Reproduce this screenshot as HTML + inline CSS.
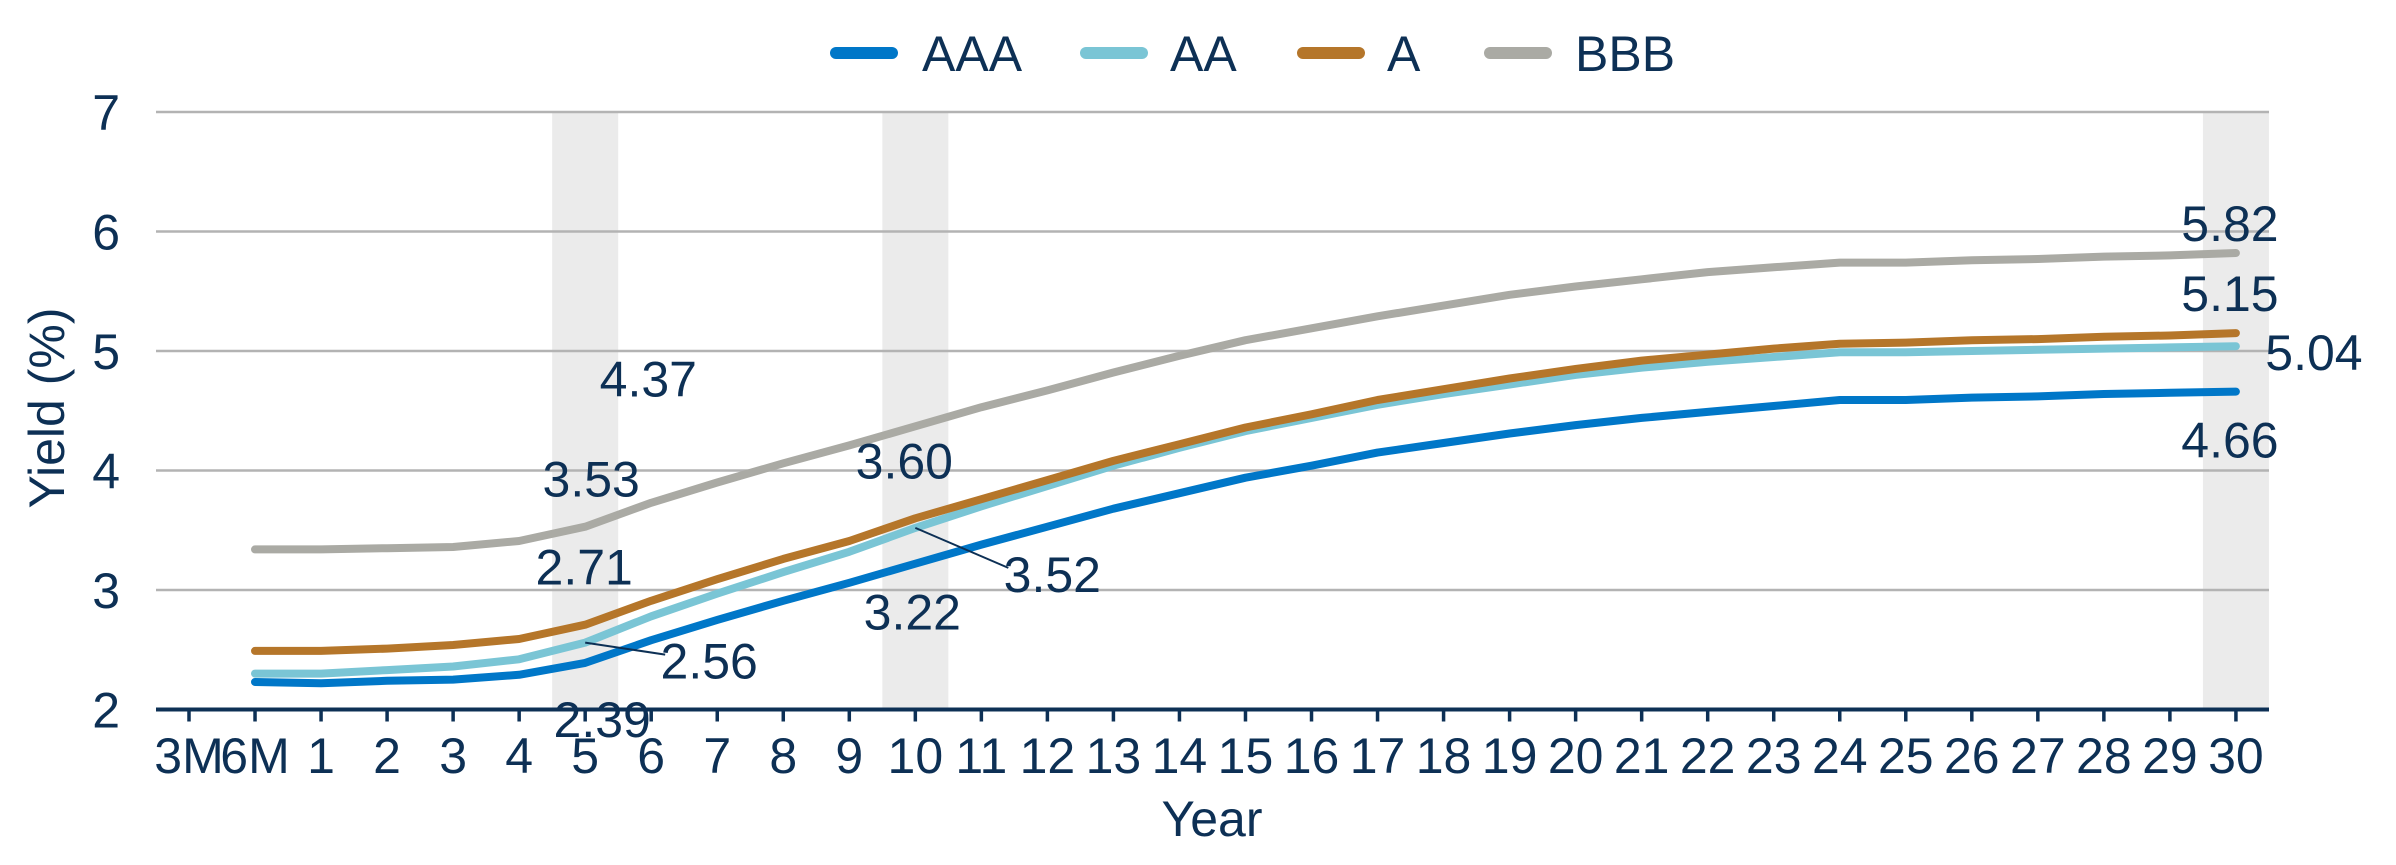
<!DOCTYPE html>
<html><head><meta charset="utf-8"><style>
html,body{margin:0;padding:0;background:#fff}
svg{display:block}
text{font-family:"Liberation Sans Narrow","Liberation Sans",sans-serif;fill:#0d3055}
</style></head><body>
<svg id="chart" width="2396" height="865" viewBox="0 0 2396 865" xmlns="http://www.w3.org/2000/svg">
<g id="bands"></g>
<g id="grid"></g>
<g id="series"></g>
<g id="axes"></g>
<g id="labels"></g>
<g>
  <line x1="836" y1="53" x2="892" y2="53" stroke="#0077c8" stroke-width="12" stroke-linecap="round"/>
  <text x="922" y="71" font-size="50">AAA</text>
  <line x1="1086" y1="53" x2="1142" y2="53" stroke="#7ac5d5" stroke-width="12" stroke-linecap="round"/>
  <text x="1170" y="71" font-size="50">AA</text>
  <line x1="1303" y1="53" x2="1359" y2="53" stroke="#b5762a" stroke-width="12" stroke-linecap="round"/>
  <text x="1387" y="71" font-size="50">A</text>
  <line x1="1490" y1="53" x2="1546" y2="53" stroke="#aaaaa4" stroke-width="12" stroke-linecap="round"/>
  <text x="1575" y="71" font-size="50">BBB</text>
</g>
<text transform="translate(64,408) rotate(-90)" text-anchor="middle" font-size="50">Yield (%)</text>
<text x="1212" y="836" text-anchor="middle" font-size="50">Year</text>
</svg>
<script>
const categories = ["3M","6M","1","2","3","4","5","6","7","8","9","10","11","12","13","14","15","16","17","18","19","20","21","22","23","24","25","26","27","28","29","30"];
const yTicks = [2,3,4,5,6,7];
const highlighted = ["5","10","30"];
const aaa = [null,2.23,2.22,2.24,2.25,2.29,2.39,2.58,2.75,2.91,3.06,3.22,3.38,3.53,3.68,3.81,3.94,4.04,4.15,4.23,4.31,4.38,4.44,4.49,4.54,4.59,4.59,4.61,4.62,4.64,4.65,4.66];
const aa  = [null,2.30,2.30,2.33,2.36,2.42,2.56,2.78,2.97,3.15,3.32,3.52,3.70,3.87,4.04,4.19,4.33,4.44,4.55,4.64,4.72,4.80,4.86,4.91,4.95,4.99,4.99,5.00,5.01,5.02,5.03,5.04];
const aRating = [null,2.49,2.49,2.51,2.54,2.59,2.71,2.91,3.09,3.26,3.41,3.60,3.76,3.92,4.08,4.22,4.36,4.47,4.59,4.68,4.77,4.85,4.92,4.97,5.02,5.06,5.07,5.09,5.10,5.12,5.13,5.15];
const bbb = [null,3.34,3.34,3.35,3.36,3.41,3.53,3.73,3.90,4.06,4.21,4.37,4.53,4.67,4.82,4.96,5.09,5.19,5.29,5.38,5.47,5.54,5.60,5.66,5.70,5.74,5.74,5.76,5.77,5.79,5.80,5.82];
const labelCats = ["5","10","30"];

const NS="http://www.w3.org/2000/svg";
const X0=189, STEP=66.03, Y0=709.5, YU=119.5, PLOT_L=156, PLOT_R=2269;
const xs=i=>X0+i*STEP;
const ys=v=>Y0-(v-2)*YU;
function mk(tag,attrs,parent){const e=document.createElementNS(NS,tag);for(const k in attrs)e.setAttribute(k,attrs[k]);parent.appendChild(e);return e;}

const bands=document.getElementById('bands');
highlighted.forEach(c=>{const i=categories.indexOf(c);
  const r=mk('rect',{x:xs(i)-STEP/2,y:ys(7),width:STEP,height:ys(2)-ys(7),fill:'#ebebeb'},bands);
  
  });

const grid=document.getElementById('grid'), axes=document.getElementById('axes');
yTicks.forEach(v=>{
  if(v>2){const l=mk('line',{x1:PLOT_L,x2:PLOT_R,y1:ys(v),y2:ys(v),stroke:'#b3b3b3','stroke-width':2.5},grid);
    
    }
  const t=mk('text',{x:120,y:ys(v)+18,'text-anchor':'end','font-size':50},axes);t.textContent=v;
  
  
});
const ax=mk('line',{x1:PLOT_L,x2:PLOT_R,y1:Y0,y2:Y0,stroke:'#0d3055','stroke-width':4},axes);


categories.forEach((c,i)=>{
  const tk=mk('line',{x1:xs(i),x2:xs(i),y1:Y0,y2:Y0+12,stroke:'#0d3055','stroke-width':3.5},axes);
  
  
  const t=mk('text',{x:xs(i),y:773,'text-anchor':'middle','font-size':50},axes);t.textContent=c;
  
  
});

const series=document.getElementById('series');
[[aaa,'#0077c8','aaa'],[aa,'#7ac5d5','aa'],[aRating,'#b5762a','a'],[bbb,'#aaaaa4','bbb']].forEach(([d,col,n])=>{
  const pts=[];d.forEach((v,i)=>{if(v!=null)pts.push(xs(i).toFixed(1)+','+ys(v).toFixed(1));});
  const p=mk('polyline',{points:pts.join(' '),fill:'none',stroke:col,'stroke-width':8,'stroke-linecap':'round','stroke-linejoin':'round'},series);
  
  
});

const labels=document.getElementById('labels');
// label offsets per category: [series, dx, dy, leader]
const placements={
  "5":[[bbb,6,-48,0],[aRating,-1,-58,0],[aa,124,18,1],[aaa,17,56,0]],
  "10":[[bbb,-267,-48,0],[aRating,-11,-58,0],[aa,137,46,1],[aaa,-3,48,0]],
  "30":[[bbb,-6,-30,0],[aRating,-6,-40,0],[aa,78,6,0],[aaa,-6,48,0]]
};
labelCats.forEach(c=>{const i=categories.indexOf(c);
  placements[c].forEach(([d,dx,dy,lead])=>{
    const x=xs(i), y=ys(d[i]);
    if(lead){const l=mk('line',{x1:x,y1:y,x2:x+dx-44,y2:y+dy-6,stroke:'#0d3055','stroke-width':2},labels);
      
      }
    const t=mk('text',{x:x+dx,y:y+dy+18,'text-anchor':'middle','font-size':50},labels);
    t.textContent=d[i].toFixed(2);
    
    
  });
});
</script>
</body></html>
